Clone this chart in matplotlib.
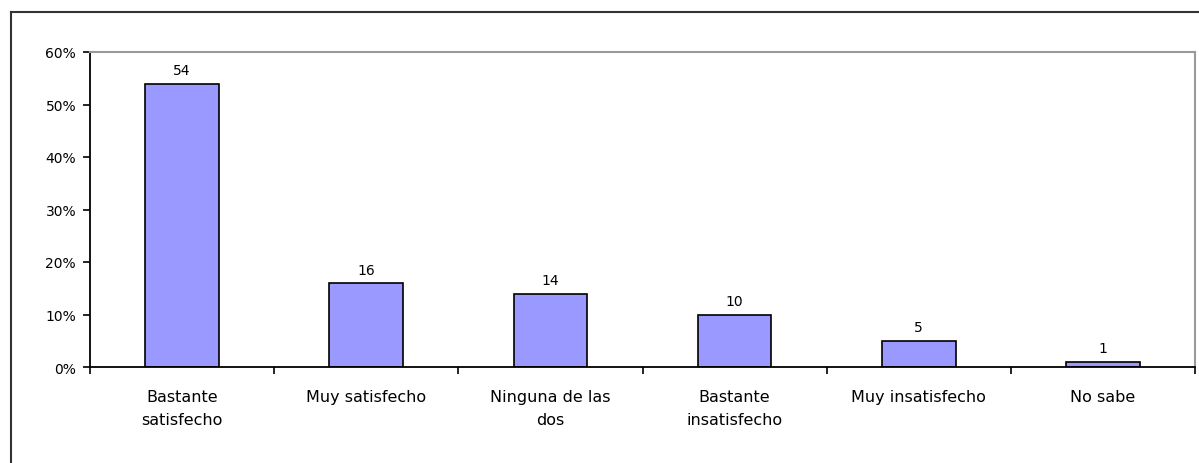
import matplotlib
matplotlib.use('Agg')
import matplotlib.pyplot as plt
from matplotlib.lines import Line2D
import numpy as np

# survey results (%)
categories = ['Bastante\nsatisfecho', 'Muy satisfecho', 'Ninguna de las\ndos',
              'Bastante\ninsatisfecho', 'Muy insatisfecho', 'No sabe']
values = [54, 16, 14, 10, 5, 1]
yTicks = [0, 10, 20, 30, 40, 50, 60]

barColor = '#9999FF'
fontSize = 11.5

fig = plt.figure(figsize=(11.99, 4.64), dpi=100)
W, H = 1199, 464
ax = fig.add_axes([90 / W, 1 - 368 / H, (1195 - 90) / W, (368 - 53) / H])

x = np.arange(len(values))
ax.bar(x, values, width=0.4, color=barColor, edgecolor='black', linewidth=1.2)
for xi, v in zip(x, values):
    ax.text(xi, v + 1.2, str(v), ha='center', va='bottom', fontsize=10)

ax.set_xlim(-0.5, len(values) - 0.5)
ax.set_ylim(0, 60)
ax.set_yticks(yTicks)
ax.set_yticklabels([f'{t}%' for t in yTicks], fontsize=10)

# category boundary ticks, labels centred between them
ax.set_xticks(np.arange(len(values) + 1) - 0.5)
ax.set_xticklabels([])
ax.set_xticks(x, minor=True)
ax.set_xticklabels(categories, minor=True, fontsize=fontSize, linespacing=1.65)
ax.tick_params(axis='x', which='minor', length=0, pad=16)
ax.tick_params(axis='x', which='major', length=5, direction='out', width=1.2)
ax.tick_params(axis='y', length=5, direction='out', width=1.2, pad=5)

for s in ['left', 'bottom']:
    ax.spines[s].set_linewidth(1.3)
    ax.spines[s].set_color('black')
for s in ['top', 'right']:
    ax.spines[s].set_linewidth(1.5)
    ax.spines[s].set_color('#999999')

# outer chart frame
fig.add_artist(Line2D([11 / W, 11 / W], [0, 1 - 13 / H], transform=fig.transFigure,
                      color='#333333', linewidth=1.5))
fig.add_artist(Line2D([11 / W, 1], [1 - 13 / H, 1 - 13 / H], transform=fig.transFigure,
                      color='#333333', linewidth=1.5))

fig.savefig('out.png', dpi=100)
